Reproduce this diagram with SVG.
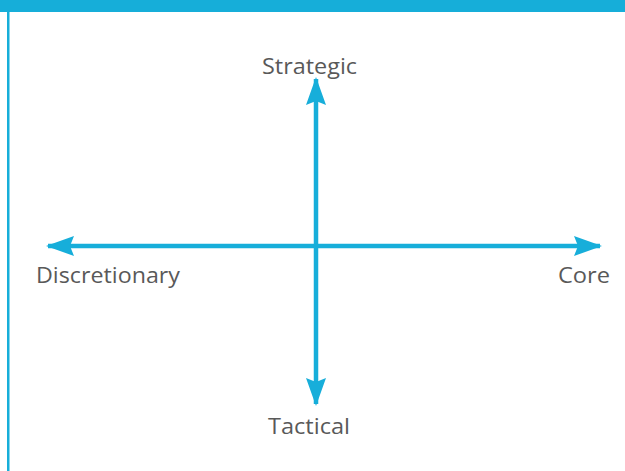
<svg xmlns="http://www.w3.org/2000/svg" width="625" height="471" viewBox="0 0 625 471">
<style>
.lbl{font-family:"Open Sans","Liberation Sans",sans-serif;font-size:21.5px;fill:#595959}
.ax{stroke:#17AEDA;stroke-width:4.5;fill:none}
</style>
<defs>
<marker id="ah" viewBox="0 0 28 20" refX="26" refY="10" markerWidth="28" markerHeight="20" markerUnits="userSpaceOnUse" orient="auto">
<path d="M0,0 L28,10 L0,20 L4,10 Z" fill="#17AEDA"/>
</marker>
</defs>
<rect x="0" y="0" width="625" height="471" fill="#ffffff"/>
<rect x="0" y="0" width="625" height="12" fill="#16AED9"/>
<rect x="7" y="12" width="2.5" height="459" fill="#16AED9"/>
<g id="connectors">
<line class="ax" x1="316" y1="246" x2="316" y2="79" marker-end="url(#ah)"/>
<line class="ax" x1="316" y1="246" x2="316" y2="404" marker-end="url(#ah)"/>
<line class="ax" x1="316" y1="246" x2="48" y2="246" marker-end="url(#ah)"/>
<line class="ax" x1="316" y1="246" x2="600" y2="246" marker-end="url(#ah)"/>
</g>
<g id="strategic"><text class="lbl" x="262" y="74" textLength="95" lengthAdjust="spacingAndGlyphs">Strategic</text></g>
<g id="tactical"><text class="lbl" x="268" y="434" textLength="82" lengthAdjust="spacingAndGlyphs">Tactical</text></g>
<g id="discretionary"><text class="lbl" x="36" y="283" textLength="144" lengthAdjust="spacingAndGlyphs">Discretionary</text></g>
<g id="core"><text class="lbl" x="558" y="283" textLength="52" lengthAdjust="spacingAndGlyphs">Core</text></g>
</svg>
